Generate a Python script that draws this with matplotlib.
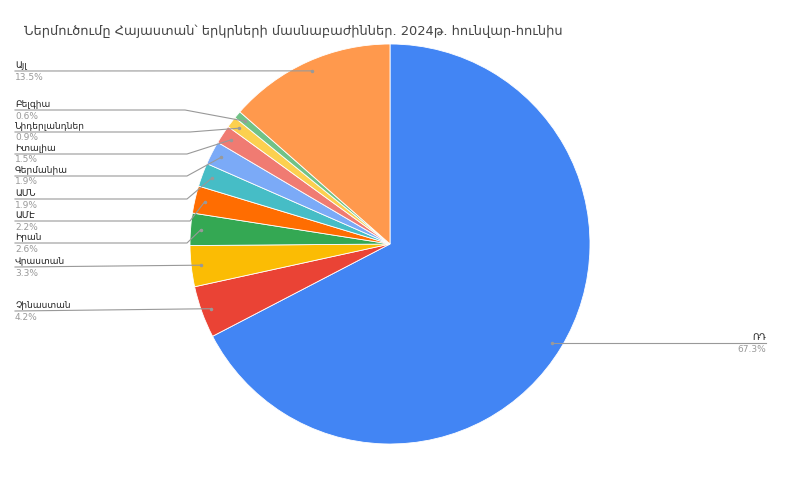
import numpy as np
import matplotlib.pyplot as plt

plt.rcParams['font.family'] = ['DejaVu Sans']

# data
countries = ['ՌԴ', 'Չինաստան', 'Վրաստան', 'Իրան', 'ԱՄԷ', 'ԱՄՆ',
             'Գերմանիա', 'Իտալիա', 'Նիդերլանդներ', 'Բելգիա', 'Այլ']
shares = [67.3, 4.2, 3.3, 2.6, 2.2, 1.9, 1.9, 1.5, 0.9, 0.6, 13.5]
colors = ['#4285F4', '#EA4335', '#FBBC04', '#34A853', '#FF6D01', '#46BDC6',
          '#7BAAF7', '#F07B72', '#FCD04F', '#71C287', '#FF994D']

title = 'Ներմուծումը Հայաստան՝ երկրների մասնաբաժիններ. 2024թ. հունվար-հունիս'

# label layout (pixels from top-left): line y, elbow x
label_y = [343, 311, 267, 243, 221, 199, 176, 154, 132, 110, 71]
elbow_x = [None, None, None, 187, 190, 187, 187, 187, 190, 185, None]

W, H = 800, 479
fig = plt.figure(figsize=(W / 100, H / 100), dpi=100)

cx, cy, r = 390, 244, 200
ax = fig.add_axes([(cx - r) / W, 1 - (cy + r) / H, 2 * r / W, 2 * r / H])
wedges, _ = ax.pie(shares, colors=colors, startangle=90, counterclock=False,
                   radius=1, wedgeprops=dict(edgecolor='white', linewidth=0.6))
ax.set_xlim(-1, 1)
ax.set_ylim(-1, 1)
ax.axis('off')

# overlay in pixel coords
ov = fig.add_axes([0, 0, 1, 1], facecolor='none')
ov.set_xlim(0, W)
ov.set_ylim(H, 0)
ov.axis('off')

fig.canvas.draw()
to_px = ax.transData

for i, w in enumerate(wedges):
    mid = np.deg2rad((w.theta1 + w.theta2) / 2)
    px, py = to_px.transform((0.95 * np.cos(mid), 0.95 * np.sin(mid)))
    py = H - py
    y = label_y[i]
    pct = f'{shares[i]}%'
    if i == 0:
        ov.plot([px, 766], [y, y], color='#999999', lw=0.8)
        ov.plot(px, py, 'o', color='#999999', ms=1.5)
        ov.text(766, y - 1, countries[i], ha='right', va='bottom', fontsize=6.5, color='#222222')
        ov.text(766, y + 1.5, pct, ha='right', va='top', fontsize=6.5, color='#999999')
        continue
    if elbow_x[i] is None:
        ov.plot([15, px], [y, py], color='#999999', lw=0.8)
    else:
        ov.plot([15, elbow_x[i], px], [y, y, py], color='#999999', lw=0.8)
    ov.plot(px, py, 'o', color='#999999', ms=1.5)
    ov.text(15, y - 1, countries[i], ha='left', va='bottom', fontsize=6.5, color='#222222')
    ov.text(15, y + 1.5, pct, ha='left', va='top', fontsize=6.5, color='#999999')

fig.text(24 / W, 1 - 31 / H, title, ha='left', va='center', fontsize=9.4, color='#444444')

fig.savefig('out.png', dpi=100)
